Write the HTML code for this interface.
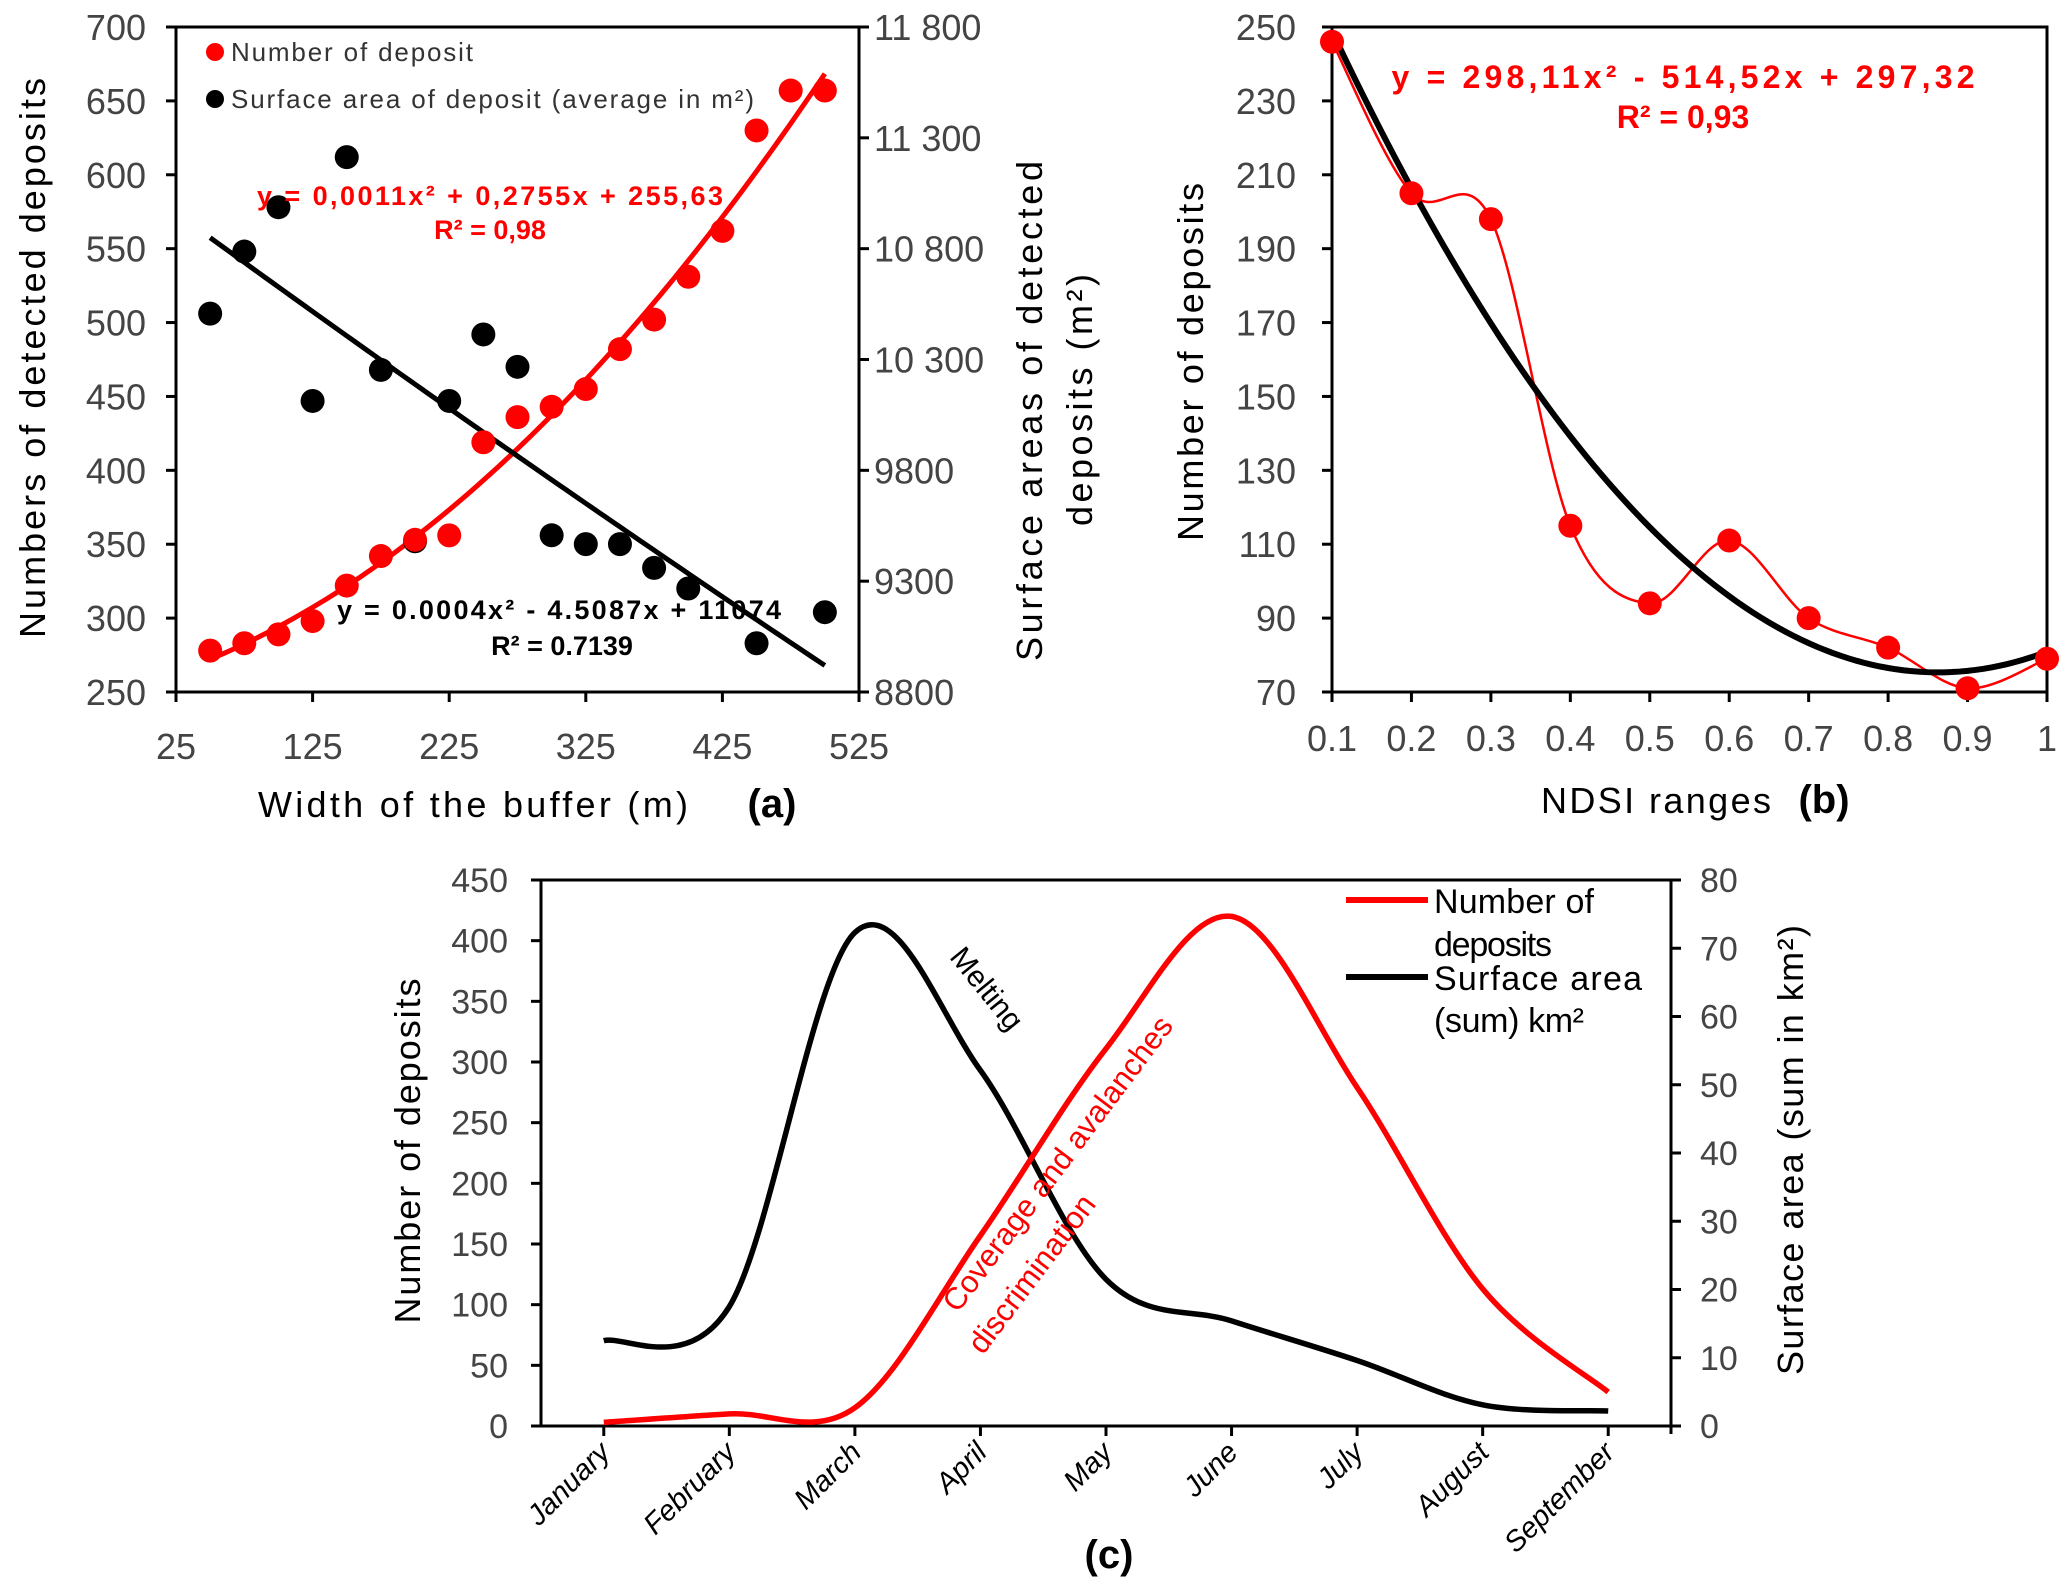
<!DOCTYPE html>
<html><head><meta charset="utf-8"><style>
body{margin:0;background:#fff;}
svg text{font-family:"Liberation Sans","DejaVu Sans",sans-serif;}
</style></head><body>
<svg id="fig" width="2067" height="1586" viewBox="0 0 2067 1586" xmlns="http://www.w3.org/2000/svg">
<rect width="2067" height="1586" fill="#fff"/>
<g id="ga"></g>
<g id="gb"></g>
<g id="gc"></g>
</svg>
<script>
// ---- chart (a) data ----
const aBuffer=[50,75,100,125,150,175,200,225,250,275,300,325,350,375,400,425,450,475,500];
const aCount=[278,283,289,298,322,342,353,356,419,436,443,455,482,502,531,562,630,657,657];
const aAreaX=[50,75,100,125,150,175,200,225,250,275,300,325,350,375,400,450,500];
const aArea=[10507,10787,10987,10113,11213,10253,9480,10113,10413,10267,9507,9467,9467,9360,9267,9020,9160];
const aCountFit=[0.0011,0.2755,255.63];
const aAreaFit=[0.0004,-4.5087,11074];
const aXTicks=[25,125,225,325,425,525];
const aYTicks=[250,300,350,400,450,500,550,600,650,700];
const aY2Ticks=[8800,9300,9800,10300,10800,11300,11800];
const aY2Labels=["8800","9300","9800","10 300","10 800","11 300","11 800"];
// ---- chart (b) data ----
const bNdsi=[0.1,0.2,0.3,0.4,0.5,0.6,0.7,0.8,0.9,1];
const bCount=[246,205,198,115,94,111,90,82,71,79];
const bFit=[298.11,-514.52,297.32];
const bYTicks=[70,90,110,130,150,170,190,210,230,250];
const bXLabels=["0.1","0.2","0.3","0.4","0.5","0.6","0.7","0.8","0.9","1"];
// ---- chart (c) data ----
const cMonths=["January","February","March","April","May","June","July","August","September"];
const cCount=[3,10,15,157,311,420,279,113,28];
const cArea=[12.5,17.5,72.3,52.1,21.5,15.4,9.6,3.1,2.2];
const cYTicks=[0,50,100,150,200,250,300,350,400,450];
const cY2Ticks=[0,10,20,30,40,50,60,70,80];

const NS="http://www.w3.org/2000/svg";
function mk(parent,tag,attrs,txt){const e=document.createElementNS(NS,tag);for(const k in attrs)e.setAttribute(k,attrs[k]);if(txt!==undefined)e.textContent=txt;parent.appendChild(e);return e;}
function smooth(pts){let d="M"+pts[0][0]+","+pts[0][1];for(let i=0;i<pts.length-1;i++){const p0=pts[i-1]||pts[i],p1=pts[i],p2=pts[i+1],p3=pts[i+2]||p2;const c1=[p1[0]+(p2[0]-p0[0])/6,p1[1]+(p2[1]-p0[1])/6],c2=[p2[0]-(p3[0]-p1[0])/6,p2[1]-(p3[1]-p1[1])/6];d+=" C"+c1+" "+c2+" "+p2;}return d;}
const TC="#444";

// ===== chart (a) =====
(function(){
const g=document.getElementById('ga');
const L=176,R=859,T=27,B=692;
const x=v=>L+(v-25)/500*(R-L), y=v=>B-(v-250)/450*(B-T), y2=v=>B-(v-8800)/3000*(B-T);
let e;
e=mk(g,'rect',{x:L,y:T,width:R-L,height:B-T,fill:'none',stroke:'#000','stroke-width':3});


aYTicks.forEach(v=>{mk(g,'line',{x1:L-10,x2:L,y1:y(v),y2:y(v),stroke:'#000','stroke-width':3});
 e=mk(g,'text',{x:146,y:y(v)+13,'text-anchor':'end','font-size':36,fill:TC},v);
 
 });
aY2Ticks.forEach((v,i)=>{mk(g,'line',{x1:R,x2:R+10,y1:y2(v),y2:y2(v),stroke:'#000','stroke-width':3});
 e=mk(g,'text',{x:874,y:y2(v)+13,'font-size':36,fill:TC},aY2Labels[i]);
 
 });
aXTicks.forEach(v=>{mk(g,'line',{x1:x(v),x2:x(v),y1:B,y2:B+10,stroke:'#000','stroke-width':3});
 e=mk(g,'text',{x:x(v),y:759,'text-anchor':'middle','font-size':36,fill:TC},v);
 
 });
const fitPath=(c,fy)=>{let d="";for(let v=50;v<=500;v+=5){const val=c[0]*v*v+c[1]*v+c[2];d+=(d?"L":"M")+x(v)+","+fy(val);}return d;};
e=mk(g,'path',{d:fitPath(aCountFit,y),fill:'none',stroke:'#f00','stroke-width':5});


e=mk(g,'path',{d:fitPath(aAreaFit,y2),fill:'none',stroke:'#000','stroke-width':5});


aAreaX.forEach((v,i)=>{e=mk(g,'circle',{cx:x(v),cy:y2(aArea[i]),r:12,fill:'#000'});
 
 });
aBuffer.forEach((v,i)=>{e=mk(g,'circle',{cx:x(v),cy:y(aCount[i]),r:12,fill:'#f00'});
 
 });
e=mk(g,'circle',{cx:215,cy:52,r:9,fill:'#f00'});
e=mk(g,'text',{x:231,y:61,'font-size':26,fill:'#333',textLength:242},'Number of deposit');
e=mk(g,'circle',{cx:215,cy:99,r:9,fill:'#000'});
e=mk(g,'text',{x:231,y:108,'font-size':26,fill:'#333',textLength:523},'Surface area of deposit (average in m²)');
e=mk(g,'text',{x:490,y:205,'text-anchor':'middle','font-size':27,'font-weight':'bold',fill:'#f00',textLength:466},'y = 0,0011x² + 0,2755x + 255,63');
e=mk(g,'text',{x:490,y:239,'text-anchor':'middle','font-size':27,'font-weight':'bold',fill:'#f00'},'R² = 0,98');
e=mk(g,'text',{x:559,y:619,'text-anchor':'middle','font-size':27,'font-weight':'bold',fill:'#000',textLength:444},'y = 0.0004x² - 4.5087x + 11074');
e=mk(g,'text',{x:562,y:655,'text-anchor':'middle','font-size':27,'font-weight':'bold',fill:'#000'},'R² = 0.7139');
e=mk(g,'text',{x:0,y:0,transform:'translate(45,358) rotate(-90)','text-anchor':'middle','font-size':36,fill:'#000',textLength:560},'Numbers of detected deposits');
e=mk(g,'text',{x:0,y:0,transform:'translate(1042,411) rotate(-90)','text-anchor':'middle','font-size':36,fill:'#000',textLength:500},'Surface areas  of detected');
e=mk(g,'text',{x:0,y:0,transform:'translate(1092,400) rotate(-90)','text-anchor':'middle','font-size':36,fill:'#000',textLength:252},'deposits (m²)');
e=mk(g,'text',{x:473,y:817,'text-anchor':'middle','font-size':36,fill:'#000',textLength:430},'Width of the buffer (m)');
e=mk(g,'text',{x:772,y:817,'text-anchor':'middle','font-size':40,'font-weight':'bold',fill:'#000'},'(a)');
})();

// ===== chart (b) =====
(function(){
const g=document.getElementById('gb');
const L=1332,R=2047,T=27,B=692;
const x=v=>L+(v-0.1)/0.9*(R-L), y=v=>B-(v-70)/180*(B-T);
let e;
e=mk(g,'rect',{x:L,y:T,width:R-L,height:B-T,fill:'none',stroke:'#000','stroke-width':3});


bYTicks.forEach(v=>{mk(g,'line',{x1:L-10,x2:L,y1:y(v),y2:y(v),stroke:'#000','stroke-width':3});
 e=mk(g,'text',{x:1296,y:y(v)+13,'text-anchor':'end','font-size':36,fill:TC},v);
 
 });
bNdsi.forEach((v,i)=>{mk(g,'line',{x1:x(v),x2:x(v),y1:B,y2:B+10,stroke:'#000','stroke-width':3});
 e=mk(g,'text',{x:x(v),y:751,'text-anchor':'middle','font-size':36,fill:TC},bXLabels[i]);
 
 });
e=mk(g,'path',{d:smooth(bNdsi.map((v,i)=>[x(v),y(bCount[i])])),fill:'none',stroke:'#f00','stroke-width':2.5});


let d="";for(let v=0.1;v<=1.0001;v+=0.01){const val=bFit[0]*v*v+bFit[1]*v+bFit[2];d+=(d?"L":"M")+x(v)+","+y(val);}
e=mk(g,'path',{d:d,fill:'none',stroke:'#000','stroke-width':6});


bNdsi.forEach((v,i)=>{e=mk(g,'circle',{cx:x(v),cy:y(bCount[i]),r:12,fill:'#f00'});
 
 });
e=mk(g,'text',{x:1683,y:88,'text-anchor':'middle','font-size':32,'font-weight':'bold',fill:'#f00',textLength:583},'y = 298,11x² - 514,52x + 297,32');
e=mk(g,'text',{x:1683,y:128,'text-anchor':'middle','font-size':32,'font-weight':'bold',fill:'#f00'},'R² = 0,93');
e=mk(g,'text',{x:0,y:0,transform:'translate(1203,362) rotate(-90)','text-anchor':'middle','font-size':36,fill:'#000',textLength:358},'Number of deposits');
e=mk(g,'text',{x:1656,y:813,'text-anchor':'middle','font-size':36,fill:'#000',textLength:230},'NDSI ranges');
e=mk(g,'text',{x:1824,y:813,'text-anchor':'middle','font-size':40,'font-weight':'bold',fill:'#000'},'(b)');
})();

// ===== chart (c) =====
(function(){
const g=document.getElementById('gc');
const L=541,R=1671,T=880,B=1426;
const bw=(R-L)/cMonths.length;
const x=i=>L+bw*(i+0.5), y=v=>B-v/450*(B-T), y2=v=>B-v/80*(B-T);
let e;
mk(g,'line',{x1:L,x2:R,y1:T,y2:T,stroke:'#000','stroke-width':3});
mk(g,'line',{x1:L,x2:L,y1:T,y2:B,stroke:'#000','stroke-width':3});
mk(g,'line',{x1:R,x2:R,y1:T,y2:B+8,stroke:'#000','stroke-width':3});
e=mk(g,'line',{x1:L-10,x2:R,y1:B,y2:B,stroke:'#000','stroke-width':3});


cYTicks.forEach(v=>{mk(g,'line',{x1:L-10,x2:L,y1:y(v),y2:y(v),stroke:'#000','stroke-width':3});
 e=mk(g,'text',{x:508,y:y(v)+12,'text-anchor':'end','font-size':34,fill:TC},v);
 
 });
cY2Ticks.forEach(v=>{mk(g,'line',{x1:R,x2:R+10,y1:y2(v),y2:y2(v),stroke:'#000','stroke-width':3});
 e=mk(g,'text',{x:1700,y:y2(v)+12,'font-size':34,fill:TC},v);
 
 });
cMonths.forEach((m,i)=>{mk(g,'line',{x1:x(i),x2:x(i),y1:B,y2:B+10,stroke:'#000','stroke-width':3});
 e=mk(g,'text',{x:0,y:0,transform:'translate('+(x(i)+8)+','+(B+28)+') rotate(-45)','text-anchor':'end','font-size':29,'font-style':'italic',fill:'#000'},m);
 
 });
e=mk(g,'path',{d:smooth(cArea.map((v,i)=>[x(i),y2(v)])),fill:'none',stroke:'#000','stroke-width':5.5});


e=mk(g,'path',{d:smooth(cCount.map((v,i)=>[x(i),y(v)])),fill:'none',stroke:'#f00','stroke-width':5.5});


e=mk(g,'line',{x1:1346,x2:1428,y1:900,y2:900,stroke:'#f00','stroke-width':6});
e=mk(g,'text',{x:1434,y:913,'font-size':34,fill:'#000',textLength:160},'Number of');
e=mk(g,'text',{x:1434,y:956,'font-size':34,fill:'#000',textLength:118},'deposits');
e=mk(g,'line',{x1:1346,x2:1428,y1:977,y2:977,stroke:'#000','stroke-width':6});
e=mk(g,'text',{x:1434,y:990,'font-size':34,fill:'#000',textLength:208},'Surface area');
e=mk(g,'text',{x:1434,y:1032,'font-size':34,fill:'#000',textLength:150},'(sum) km²');
e=mk(g,'text',{x:0,y:0,transform:'translate(979,995) rotate(51)','text-anchor':'middle','font-size':30,fill:'#000'},'Melting');
e=mk(g,'text',{x:0,y:0,transform:'translate(1066,1170) rotate(-53)','text-anchor':'middle','font-size':31,fill:'#f00'},'Coverage and avalanches');
e=mk(g,'text',{x:0,y:0,transform:'translate(1040,1280) rotate(-53)','text-anchor':'middle','font-size':31,fill:'#f00'},'discrimination');
e=mk(g,'text',{x:0,y:0,transform:'translate(420,1151) rotate(-90)','text-anchor':'middle','font-size':36,fill:'#000',textLength:345},'Number of deposits');
e=mk(g,'text',{x:0,y:0,transform:'translate(1803,1150) rotate(-90)','text-anchor':'middle','font-size':36,fill:'#000',textLength:450},'Surface area (sum in km²)');
e=mk(g,'text',{x:1109,y:1568,'text-anchor':'middle','font-size':40,'font-weight':'bold',fill:'#000'},'(c)');
})();
</script>
</body></html>
